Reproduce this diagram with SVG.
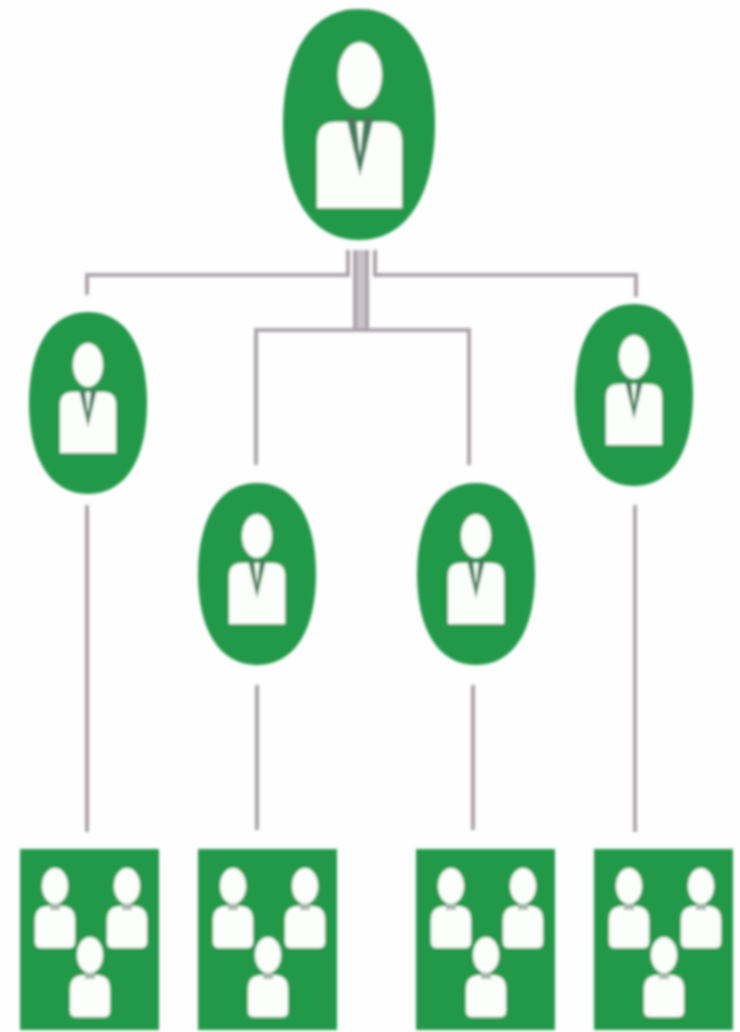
<svg xmlns="http://www.w3.org/2000/svg" xmlns:xlink="http://www.w3.org/1999/xlink" width="740" height="1032" viewBox="0 0 740 1032">
<style>
.g{fill:#23984a}
.w{fill:#fbfefb}
.t{fill:#3f7d58}
.c{fill:none;stroke:#aba3aa;stroke-width:4}
.m{fill:none;stroke:#c8c3c9;stroke-width:15}
.n{filter:url(#soft)}
</style>
<defs>
<filter id="soft" x="-5%" y="-5%" width="110%" height="110%"><feGaussianBlur stdDeviation="1.4"/></filter>
<g id="boss">
<path class="g" d="M0-91C40-91 59-52 59 0C59 52 40 91 0 91C-40 91-59 52-59 0C-59-52-40-91 0-91Z"/>
<ellipse class="w" cx="0" cy="-38" rx="15" ry="22"/>
<path class="w" d="M-28 2Q-28-11-15-11H15Q28-11 28 2V50H-28Z"/>
<path class="t" d="M-9-14L0 24L9-14L3-14L0 12L-3-14Z"/>
</g>
<g id="person">
<ellipse class="w" cx="0" cy="-26" rx="13" ry="18"/>
<path class="w" d="M-20 8Q-20-6-6-6H6Q20-6 20 8V30Q20 36 14 36H-14Q-20 36-20 30Z"/>
<rect x="-5" y="-8" width="10" height="6" fill="#a8b5ac"/>
</g>
<g id="team">
<rect class="g" x="0" y="0" width="139" height="181"/>
<use href="#person" x="35" y="63"/>
<use href="#person" x="107" y="63"/>
<use href="#person" x="70" y="132"/>
</g>
</defs>
<rect width="740" height="1032" fill="#fefefe"/>
<g id="connectors" class="n">
<path class="m" d="M361 250V330"/>
<path class="c" d="M87 295V275H348V250M375 250V275H636V297M355 250V330M367 250V330M256 465V330H469V465M87 505V832M257 685V830M473 685V830M635 505V832"/>
</g>
<g id="node-top" class="n">
<path class="g" d="M359 9C412 9 435 62 435 124C435 186 412 240 359 240C306 240 283 186 283 124C283 62 306 9 359 9Z"/>
<ellipse class="w" cx="360" cy="75" rx="22" ry="33"/>
<path class="w" d="M317 142Q317 122 335 122H384Q402 122 402 142V208H317Z"/>
<path class="t" d="M346 116L360 176L374 116L364 116L360 158L356 116Z"/>
</g>
<g id="node-left" class="n"><use href="#boss" x="88" y="403"/></g>
<g id="node-mid-left" class="n"><use href="#boss" x="257" y="574"/></g>
<g id="node-mid-right" class="n"><use href="#boss" x="476" y="574"/></g>
<g id="node-right" class="n"><use href="#boss" x="634" y="395"/></g>
<g id="team-1" class="n"><use href="#team" x="20" y="849"/></g>
<g id="team-2" class="n"><use href="#team" x="198" y="849"/></g>
<g id="team-3" class="n"><use href="#team" x="416" y="849"/></g>
<g id="team-4" class="n"><use href="#team" x="594" y="849"/></g>
</svg>
